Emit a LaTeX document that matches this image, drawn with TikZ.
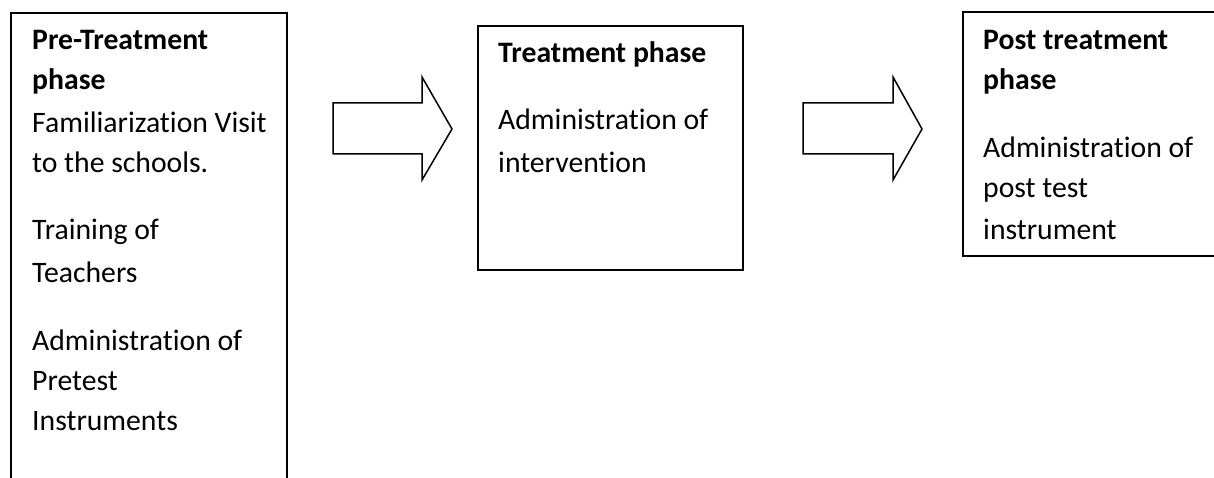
\documentclass[tikz,border=0pt]{standalone}
\usepackage{fontspec}
\setmainfont[Ligatures=NoCommon]{Carlito}
\begin{document}
\begin{tikzpicture}[x=1pt,y=-1pt,
  phasebox/.style={draw=black,line width=2pt,anchor=north west,inner sep=0pt},
  ln/.style={anchor=base west,inner sep=0pt,font=\fontsize{29.7}{36}\selectfont},
  hd/.style={ln,font=\fontsize{29.7}{36}\selectfont\bfseries},
  blockarrow/.style={draw=black,line width=1.5pt,fill=white,line join=miter}]
\useasboundingbox[fill=white] (0,0) rectangle (1214,478);
\clip (0,0) rectangle (1214,478);
% boxes
\node[phasebox,minimum width=276pt,minimum height=480pt] (pre) at (10,12) {};
\node[phasebox,minimum width=265pt,minimum height=244pt] (treat) at (477,25) {};
\node[phasebox,minimum width=270pt,minimum height=244pt] (post) at (962,11) {};
% pre-treatment texts
\node[hd] (p1) at (32,50) {Pre-Treatment};
\node[hd] (p2) at (32,90) {phase};
\node[ln] (p3) at (32,133) {Familiarization Visit};
\node[ln] (p4) at (32,173) {to the schools.};
\node[ln] (p5) at (32,240) {Training of};
\node[ln] (p6) at (32,282) {Teachers};
\node[ln] (p7) at (32,350) {Administration of};
\node[ln] (p8) at (32,390) {Pretest};
\node[ln] (p9) at (32,430) {Instruments};
% treatment texts
\node[hd] (t1) at (498,63) {Treatment phase};
\node[ln] (t2) at (498,130) {Administration of};
\node[ln] (t3) at (498,173) {intervention};
% post treatment texts
\node[hd] (q1) at (983,50) {Post treatment};
\node[hd] (q2) at (983,90) {phase};
\node[ln] (q3) at (983,158) {Administration of};
\node[ln] (q4) at (983,198) {post test};
\node[ln] (q5) at (983,240) {instrument};
% block arrows
\draw[blockarrow] (333,103) -- (422,103) -- (422,77) -- (452,129) -- (422,180) -- (422,154) -- (333,154) -- cycle;
\draw[blockarrow] (803,103) -- (893,103) -- (893,77) -- (922,129) -- (893,180) -- (893,154) -- (803,154) -- cycle;
\end{tikzpicture}
\end{document}
